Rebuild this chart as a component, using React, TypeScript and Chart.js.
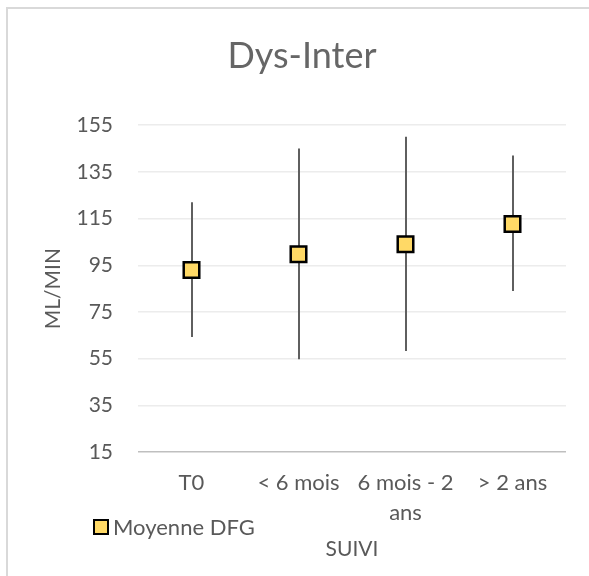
import { useEffect, useRef } from 'react';
import { Chart, registerables } from 'chart.js';

Chart.register(...registerables);

const chartTitle = 'Dys-Inter';
const seriesLabel = 'Moyenne DFG';
const yAxisTitle = 'ML/MIN';
const xAxisTitle = 'SUIVI';
const categories: string[][] = [['T0'], ['< 6 mois'], ['6 mois - 2', 'ans'], ['> 2 ans']];
const meanDFG = [93, 99.7, 104, 112.7];
const highDFG = [122, 145, 150, 142];
const lowDFG = [64.3, 54.7, 58.3, 84];
const yTicks = [15, 35, 55, 75, 95, 115, 135, 155];

const FONT = 'Lato, "Open Sans", sans-serif';
const TEXT = '#595959';
const FILL = '#FFD966';

const errorBarPlugin = {
  id: 'errorBars',
  beforeDatasetsDraw(chart: any) {
    const { ctx, scales } = chart;
    const x = scales.x;
    const y = scales.y;
    ctx.save();
    ctx.strokeStyle = '#5f5f5f';
    ctx.lineWidth = 2;
    for (let i = 0; i < meanDFG.length; i++) {
      const px = Math.round(x.getPixelForValue(i));
      ctx.beginPath();
      ctx.moveTo(px, y.getPixelForValue(highDFG[i]));
      ctx.lineTo(px, y.getPixelForValue(lowDFG[i]));
      ctx.stroke();
    }
    ctx.restore();
  },
};

const customLegendPlugin = {
  id: 'customLegend',
  afterDraw(chart: any) {
    const { ctx } = chart;
    const ds = chart.data.datasets[0];
    ctx.save();
    ctx.fillStyle = FILL;
    ctx.strokeStyle = '#000000';
    ctx.lineWidth = 2;
    ctx.beginPath();
    ctx.rect(94, 520, 14, 14);
    ctx.fill();
    ctx.stroke();
    ctx.fillStyle = TEXT;
    ctx.font = `22px ${FONT}`;
    ctx.textBaseline = 'middle';
    ctx.textAlign = 'left';
    ctx.fillText(ds.label, 113, 528);
    ctx.restore();
  },
};

export default function App() {
  const canvasRef = useRef<HTMLCanvasElement | null>(null);

  useEffect(() => {
    document.body.style.margin = '0';
    document.body.style.background = '#ffffff';
    const canvas = canvasRef.current;
    if (!canvas) return;
    const chart = new Chart(canvas, {
      type: 'line',
      data: {
        labels: categories,
        datasets: [
          {
            label: seriesLabel,
            data: meanDFG,
            showLine: false,
            pointStyle: 'rect',
            pointRadius: 11,
            pointHoverRadius: 11,
            pointBackgroundColor: FILL,
            pointBorderColor: '#000000',
            pointBorderWidth: 2.5,
          },
        ],
      },
      options: {
        responsive: false,
        animation: false,
        events: [],
        layout: { padding: { left: 38, right: 23, top: 0, bottom: 0 } },
        plugins: {
          legend: { display: false },
          tooltip: { enabled: false },
          title: {
            display: true,
            text: chartTitle,
            color: '#666666',
            font: { family: FONT, size: 36, weight: 'normal', lineHeight: 1.2 },
            padding: { top: 35, bottom: 47 },
          },
        },
        scales: {
          x: {
            type: 'category',
            offset: true,
            grid: { display: false, drawTicks: false },
            border: { display: false },
            ticks: {
              color: TEXT,
              font: { family: FONT, size: 22, lineHeight: 1.37 },
              padding: 16,
              maxRotation: 0,
              autoSkip: false,
            },
            title: {
              display: true,
              text: xAxisTitle,
              color: TEXT,
              font: { family: FONT, size: 21, lineHeight: 1.2 },
              padding: { top: 0, bottom: 14 },
            },
            afterFit: (scale: any) => {
              scale.height = 124;
            },
          },
          y: {
            min: 15,
            max: 155,
            grid: {
              drawTicks: false,
              lineWidth: 1.5,
              color: (c: any) => (c.tick && c.tick.value === 15 ? '#bfbfbf' : '#ececec'),
            },
            border: { display: false },
            ticks: {
              color: TEXT,
              font: { family: FONT, size: 21 },
              padding: 25,
            },
            afterBuildTicks: (axis: any) => {
              axis.ticks = yTicks.map((v) => ({ value: v }));
            },
            title: {
              display: true,
              text: yAxisTitle,
              color: TEXT,
              font: { family: FONT, size: 21, lineHeight: 1.2 },
              padding: { top: 3, bottom: 0 },
            },
            afterFit: (scale: any) => {
              scale.width = 100;
            },
          },
        },
      },
      plugins: [errorBarPlugin, customLegendPlugin],
    });
    return () => chart.destroy();
  }, []);

  return (
    <div style={{ position: 'fixed', left: 0, top: 0, width: 589, height: 576, background: '#fff' }}>
      <div
        style={{
          position: 'absolute',
          left: 6,
          top: 7,
          right: 0,
          bottom: 0,
          borderTop: '2px solid #d9d9d9',
          borderLeft: '2px solid #d9d9d9',
        }}
      />
      <canvas ref={canvasRef} width={589} height={576} style={{ position: 'absolute', left: 0, top: 0 }} />
    </div>
  );
}
